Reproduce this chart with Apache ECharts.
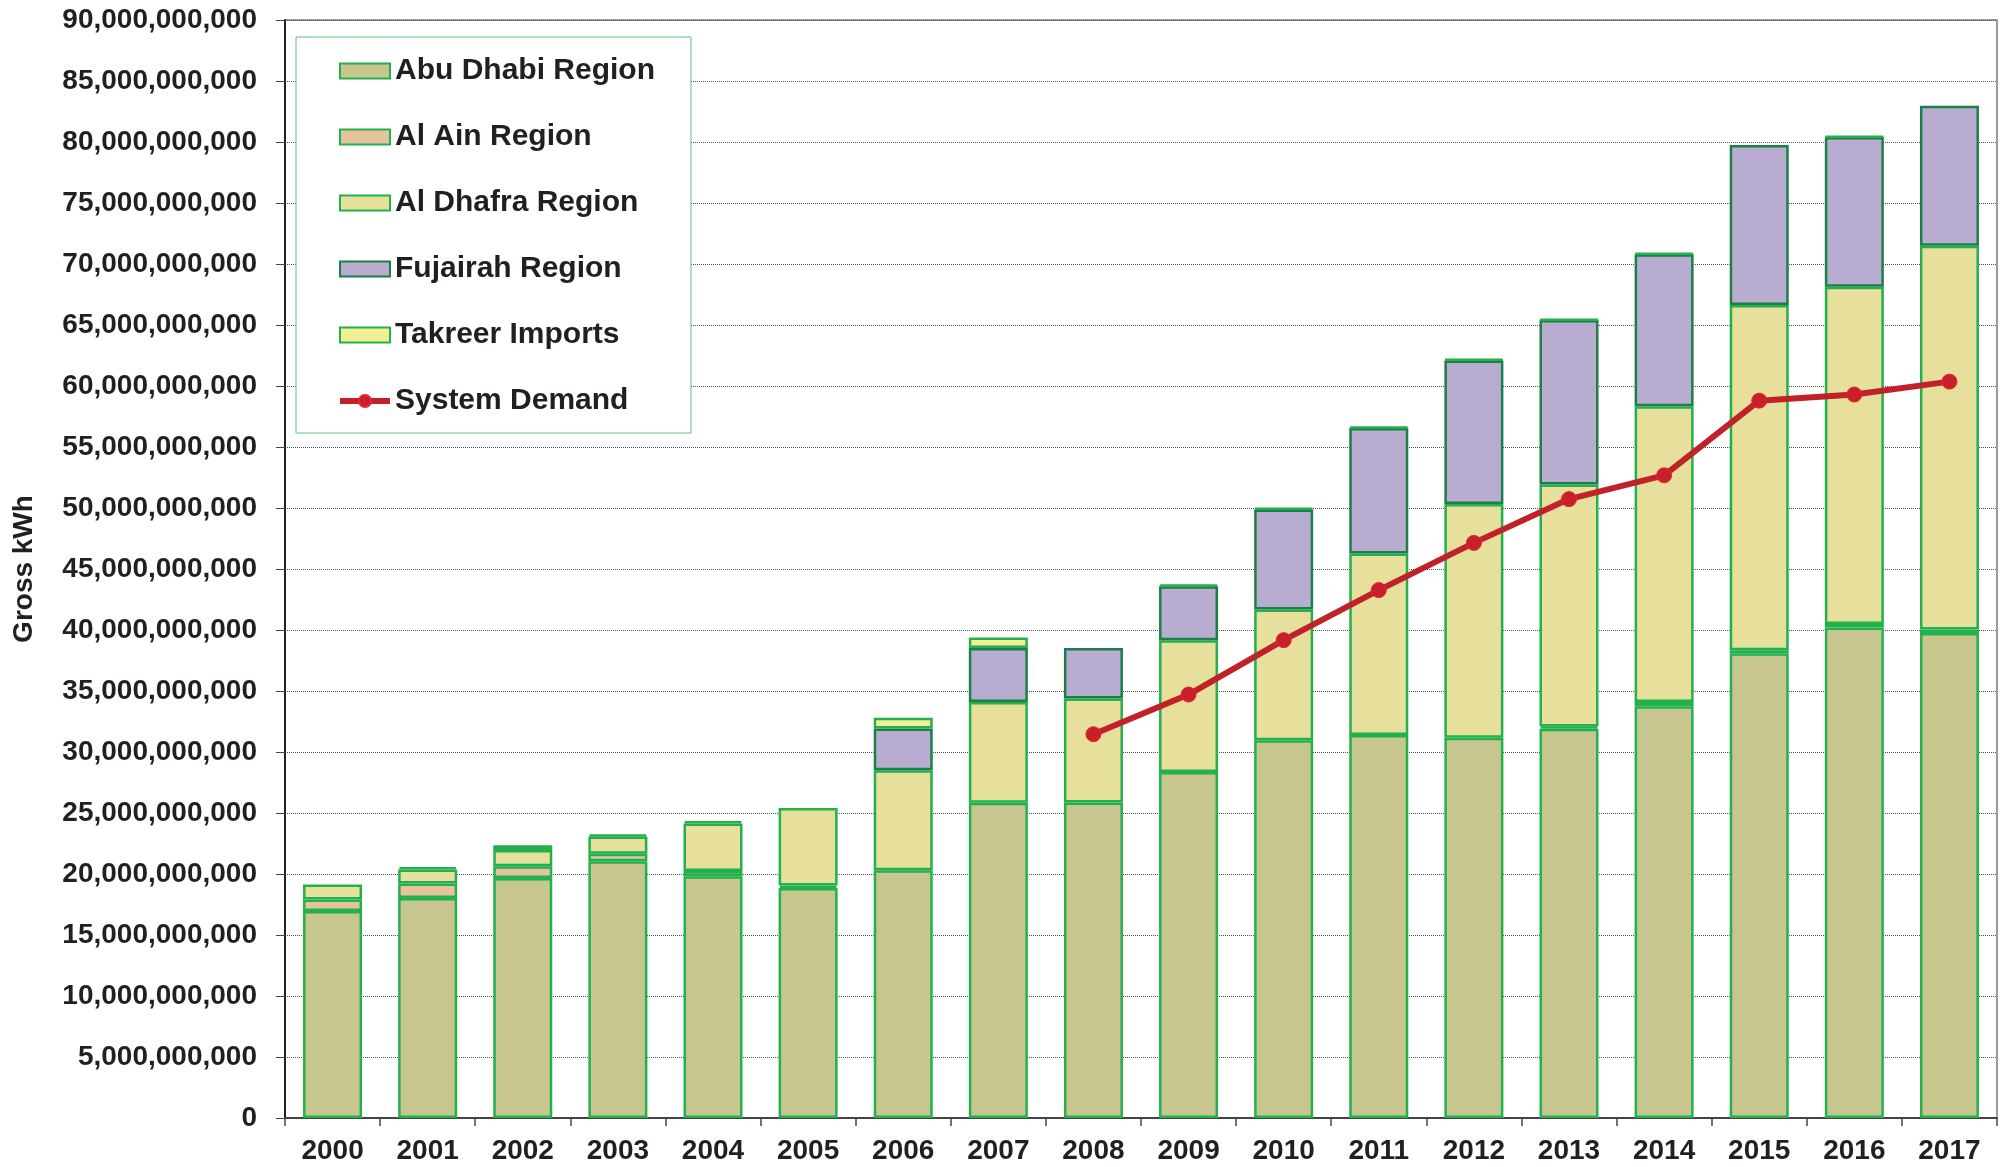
<!DOCTYPE html>
<html>
<head>
<meta charset="utf-8">
<title>Gross kWh by region</title>
<script src="https://cdn.jsdelivr.net/npm/echarts@6/dist/echarts.min.js"></script>
<style>
  html, body { margin: 0; padding: 0; background: #fff; }
  #main { width: 2009px; height: 1167px; }
</style>
</head>
<body>
<div id="main"></div>
<script>
// values are in billions of kWh
var years = ['2000', '2001', '2002', '2003', '2004', '2005', '2006', '2007', '2008',
  '2009', '2010', '2011', '2012', '2013', '2014', '2015', '2016', '2017'];

var abuDhabi = [16.97, 18.04, 19.68, 21.05, 19.82, 18.85, 20.31, 25.83, 25.86,
  28.37, 30.97, 31.40, 31.16, 31.90, 33.75, 38.10, 40.20, 39.76];
var alAin = [0.94, 1.18, 0.96, 0.60, 0.43, 0.20, null, null, null,
  null, null, null, null, 0.20, 0.35, 0.25, 0.30, 0.28];
var alDhafra = [1.23, 1.15, 1.33, 1.42, 3.89, 6.37, 8.20, 8.27, 8.53,
  10.80, 10.71, 14.87, 19.16, 19.83, 24.23, 28.29, 27.64, 31.46];
var fujairah = [null, null, null, null, null, null, 3.42, 4.43, 4.14,
  4.42, 8.20, 10.28, 11.78, 13.47, 12.47, 13.11, 12.26, 11.48];
var takreer = [null, 0.20, 0.39, 0.19, 0.19, null, 0.87, 0.86, null,
  0.12, 0.12, 0.10, 0.10, 0.08, 0.08, null, 0.08, null];
var systemDemand = [null, null, null, null, null, null, null, null, 31.46,
  34.71, 39.17, 43.27, 47.14, 50.73, 52.68, 58.80, 59.30, 60.36];

var FONT = '"Liberation Sans", Arial, sans-serif';
var TEXT = '#231f20';

function barSeries(name, data, fill, border) {
  return {
    name: name,
    type: 'bar',
    stack: 'total',
    barWidth: 59,
    data: data,
    itemStyle: { color: fill, borderColor: border, borderWidth: 2.5 }
  };
}

var chartDom = document.getElementById('main');
var myChart = echarts.init(chartDom, null, { renderer: 'canvas' });
var option;

option = {
  animation: false,
  backgroundColor: '#ffffff',
  textStyle: { fontFamily: FONT },
  grid: {
    left: 285, right: 12, top: 20, bottom: 49,
    containLabel: false,
    outerBoundsMode: 'none',
    show: true, borderColor: '#9c9c9c', borderWidth: 2
  },
  legend: {
    orient: 'vertical',
    left: 296, top: 37,
    padding: [19, 36, 17, 41],
    backgroundColor: '#ffffff',
    borderColor: '#5cc47a',
    borderWidth: 1,
    itemWidth: 50,
    itemHeight: 15,
    itemGap: 36,
    textStyle: { fontFamily: FONT, fontWeight: 'bold', fontSize: 30, color: TEXT },
    data: [
      { name: 'Abu Dhabi Region', icon: 'rect' },
      { name: 'Al Ain Region', icon: 'rect' },
      { name: 'Al Dhafra Region', icon: 'rect' },
      { name: 'Fujairah Region', icon: 'rect' },
      { name: 'Takreer Imports', icon: 'rect' },
      { name: 'System Demand', lineStyle: { width: 6 } }
    ]
  },
  xAxis: {
    type: 'category',
    data: years,
    axisLine: { lineStyle: { color: '#444', width: 2 } },
    axisTick: { show: true, length: 8, lineStyle: { color: '#444', width: 1.5 } },
    axisLabel: { margin: 19, fontFamily: FONT, fontWeight: 'bold', fontSize: 28, color: TEXT },
    splitLine: { show: false }
  },
  yAxis: {
    type: 'value',
    min: 0,
    max: 90,
    interval: 5,
    name: 'Gross kWh',
    nameLocation: 'middle',
    nameRotate: 90,
    nameGap: 247,
    nameTextStyle: { fontFamily: FONT, fontWeight: 'bold', fontSize: 28, color: TEXT },
    axisLine: { show: true, lineStyle: { color: '#222', width: 2 } },
    axisTick: { show: true, length: 9, lineStyle: { color: '#444', width: 1 } },
    axisLabel: {
      margin: 28,
      fontFamily: FONT, fontWeight: 'bold', fontSize: 28, color: TEXT,
      formatter: function (v) { return (v * 1e9).toLocaleString('en-US'); }
    },
    splitLine: { show: true, lineStyle: { color: '#505050', width: 1, type: 'dotted' } }
  },
  series: [
    barSeries('Abu Dhabi Region', abuDhabi, '#c6c68e', '#22b14c'),
    barSeries('Al Ain Region', alAin, '#e6c29e', '#22b14c'),
    barSeries('Al Dhafra Region', alDhafra, '#e6e09c', '#22b14c'),
    barSeries('Fujairah Region', fujairah, '#b9acd1', '#1b7f47'),
    barSeries('Takreer Imports', takreer, '#f2f096', '#22b14c'),
    {
      name: 'System Demand',
      type: 'line',
      data: systemDemand,
      z: 5,
      symbol: 'circle',
      symbolSize: 15,
      showSymbol: true,
      connectNulls: false,
      lineStyle: { color: '#c1222a', width: 6 },
      itemStyle: { color: '#c8202a', borderColor: '#e8262c', borderWidth: 1 }
    }
  ]
};

option && myChart.setOption(option);
</script>
</body>
</html>
